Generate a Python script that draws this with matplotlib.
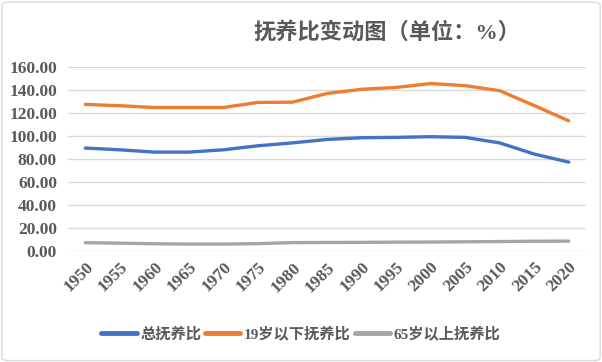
import matplotlib
matplotlib.use("Agg")
import matplotlib.pyplot as plt
from matplotlib.patches import FancyBboxPatch

# Data
years = ['1950', '1955', '1960', '1965', '1970', '1975', '1980', '1985',
         '1990', '1995', '2000', '2005', '2010', '2015', '2020']
total_ratio = [89.5, 88.0, 86.0, 86.0, 88.0, 91.5, 94.0, 97.0,
               98.5, 98.8, 99.4, 98.8, 94.0, 84.3, 77.3]
young_ratio = [127.5, 126.3, 124.8, 124.8, 124.8, 129.2, 129.4, 137.0,
               140.6, 142.2, 145.6, 143.8, 139.4, 126.5, 113.2]
old_ratio = [7.2, 6.8, 6.3, 6.0, 6.0, 6.4, 7.3, 7.4,
             7.5, 7.7, 7.8, 8.0, 8.2, 8.5, 8.6]

series_names = ['总抚养比', '19岁以下抚养比', '65岁以上抚养比']
colors = ['#4472C4', '#ED7D31', '#A5A5A5']
text_color = '#595959'
fonts = ['Liberation Serif', 'Noto Sans CJK SC', 'DejaVu Sans']
plt.rcParams['font.family'] = fonts

fig = plt.figure(figsize=(6.02, 3.62), dpi=100)
# Light border round the chart
fig.patches.append(FancyBboxPatch((0.003, 0.004), 0.994, 0.99, boxstyle='round,pad=0,rounding_size=0.01',
                                  transform=fig.transFigure, fill=False, edgecolor='#D9D9D9', linewidth=1))

ax = fig.add_axes([68 / 602, 1 - 251 / 362, 518 / 602, 184 / 362])
x = list(range(len(years)))
for values, name, color in zip([total_ratio, young_ratio, old_ratio], series_names, colors):
    ax.plot(x, values, color=color, linewidth=2.4, label=name, solid_capstyle='round')

ax.set_xlim(-0.5, len(years) - 0.5)
ax.set_ylim(0, 160)
ax.set_yticks(range(0, 161, 20))
ax.set_yticklabels([f'{v:.2f}' for v in range(0, 161, 20)])
ax.set_xticks(x)
ax.set_xticklabels(years, rotation=45, ha='right', va='top', rotation_mode='anchor')
ax.grid(axis='y', color='#D9D9D9', linewidth=1)
ax.set_axisbelow(True)
ax.tick_params(length=0, colors=text_color, labelsize=12.5)
ax.tick_params(axis='y', pad=8)
ax.tick_params(axis='x', pad=6)
for label in ax.get_xticklabels() + ax.get_yticklabels():
    label.set_fontweight('bold')
for spine in ax.spines.values():
    spine.set_visible(False)

fig.text(0.643, 1 - 33 / 362, '抚养比变动图（单位：%）', ha='center', va='center',
         fontsize=16, fontweight='bold', color=text_color)

leg = fig.legend(loc='center', bbox_to_anchor=(0.5, 1 - 334 / 362), ncol=3, frameon=False,
                 handlelength=2.3, columnspacing=0.25, handletextpad=0.25,
                 prop={'size': 11, 'weight': 'bold'})
for t in leg.get_texts():
    t.set_color(text_color)
for line in leg.get_lines():
    line.set_linewidth(3.5)

fig.savefig('out.png', dpi=100)
